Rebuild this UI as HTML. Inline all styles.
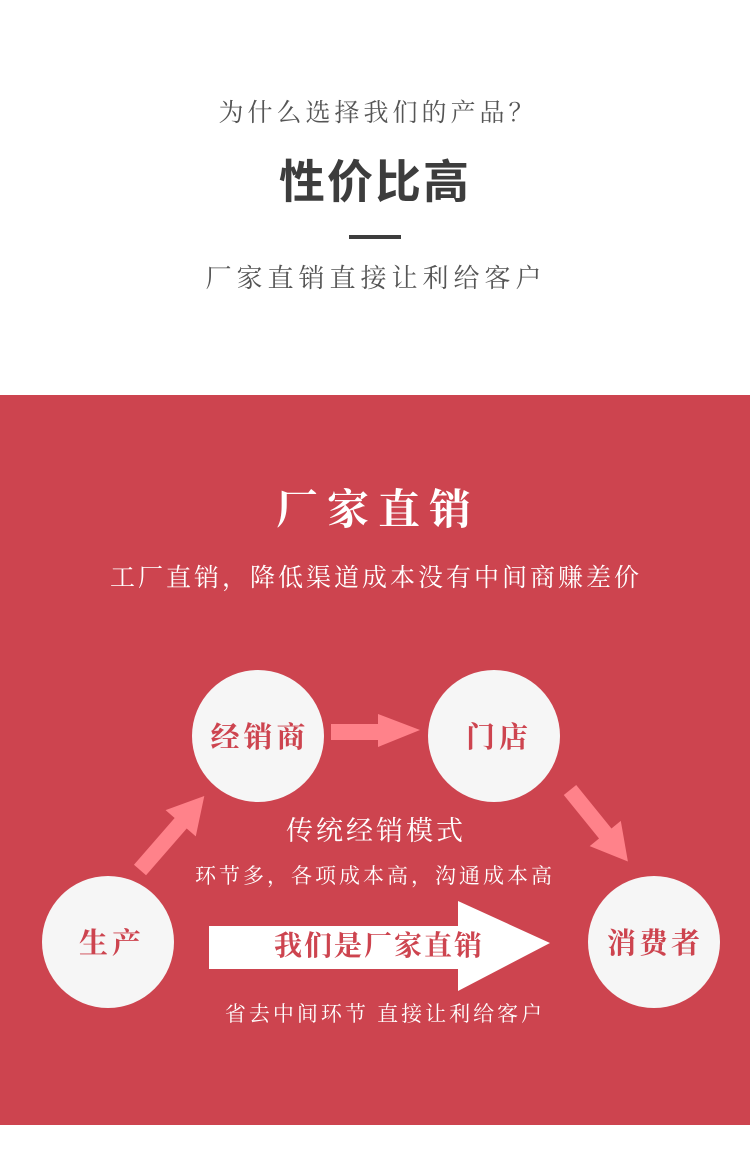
<!DOCTYPE html>
<html><head><meta charset="utf-8"><style>
html,body{margin:0;padding:0;width:750px;height:1164px;overflow:hidden;background:#fff}
svg{display:block}
text{font-family:"Liberation Serif","Noto Serif CJK SC",serif}
</style></head><body>
<svg width="750" height="1164" viewBox="0 0 750 1164" xmlns="http://www.w3.org/2000/svg">
<rect x="0" y="0" width="750" height="1164" fill="#fff"/>
<text x="378" y="121" font-size="25" fill="#555" text-anchor="middle" letter-spacing="4">为什么选择我们的产品？</text>
<text x="375" y="198" font-size="46" font-weight="bold" fill="#3d3d3d" text-anchor="middle" style="font-family:'Noto Sans CJK SC',sans-serif" letter-spacing="2">性价比高</text>
<rect x="349" y="235" width="52" height="4" fill="#3d3d3d"/>
<text x="376" y="287" font-size="26" fill="#555" text-anchor="middle" letter-spacing="5">厂家直销直接让利给客户</text>
<rect x="0" y="395" width="750" height="730" fill="#cd444f"/>
<text x="378" y="524" font-size="42" font-weight="bold" fill="#fff" text-anchor="middle" letter-spacing="9">厂家直销</text>
<text x="376" y="586" font-size="25" fill="#fff" text-anchor="middle" letter-spacing="3">工厂直销，降低渠道成本没有中间商赚差价</text>
<g fill="#f6f6f6">
<circle cx="258" cy="736" r="66"/>
<circle cx="494" cy="736" r="66"/>
<circle cx="108" cy="942" r="66"/>
<circle cx="654" cy="942" r="66"/>
</g>
<g fill="#ff828a">
<polygon points="331,724 378,724 378,714 420,730 378,747 378,740 331,740"/>
<g transform="translate(140,870) rotate(-49)"><polygon points="0,-8 62,-8 62,-20 98,0 62,20 62,8 0,8"/></g>
<g transform="translate(570,790) rotate(51)"><polygon points="0,-8 56,-8 56,-20 92,0 56,20 56,8 0,8"/></g>
</g>
<polygon points="209,926 458,926 458,901 550,943 458,991 458,969 209,969" fill="#fff"/>
<g fill="#cd444f" font-weight="bold" text-anchor="middle">
<text x="260" y="747" font-size="29" letter-spacing="4">经销商</text>
<text x="499" y="747" font-size="29" letter-spacing="4">门店</text>
<text x="112" y="953" font-size="29" letter-spacing="4">生产</text>
<text x="655" y="953" font-size="29" letter-spacing="3">消费者</text>
<text x="379" y="955" font-size="28" letter-spacing="2">我们是厂家直销</text>
</g>
<g fill="#fff" text-anchor="middle">
<text x="376" y="840" font-size="27" letter-spacing="3">传统经销模式</text>
<text x="375" y="883" font-size="21" letter-spacing="3">环节多，各项成本高，沟通成本高</text>
<text x="385" y="1021" font-size="21" letter-spacing="3">省去中间环节 直接让利给客户</text>
</g>
</svg>
</body></html>
